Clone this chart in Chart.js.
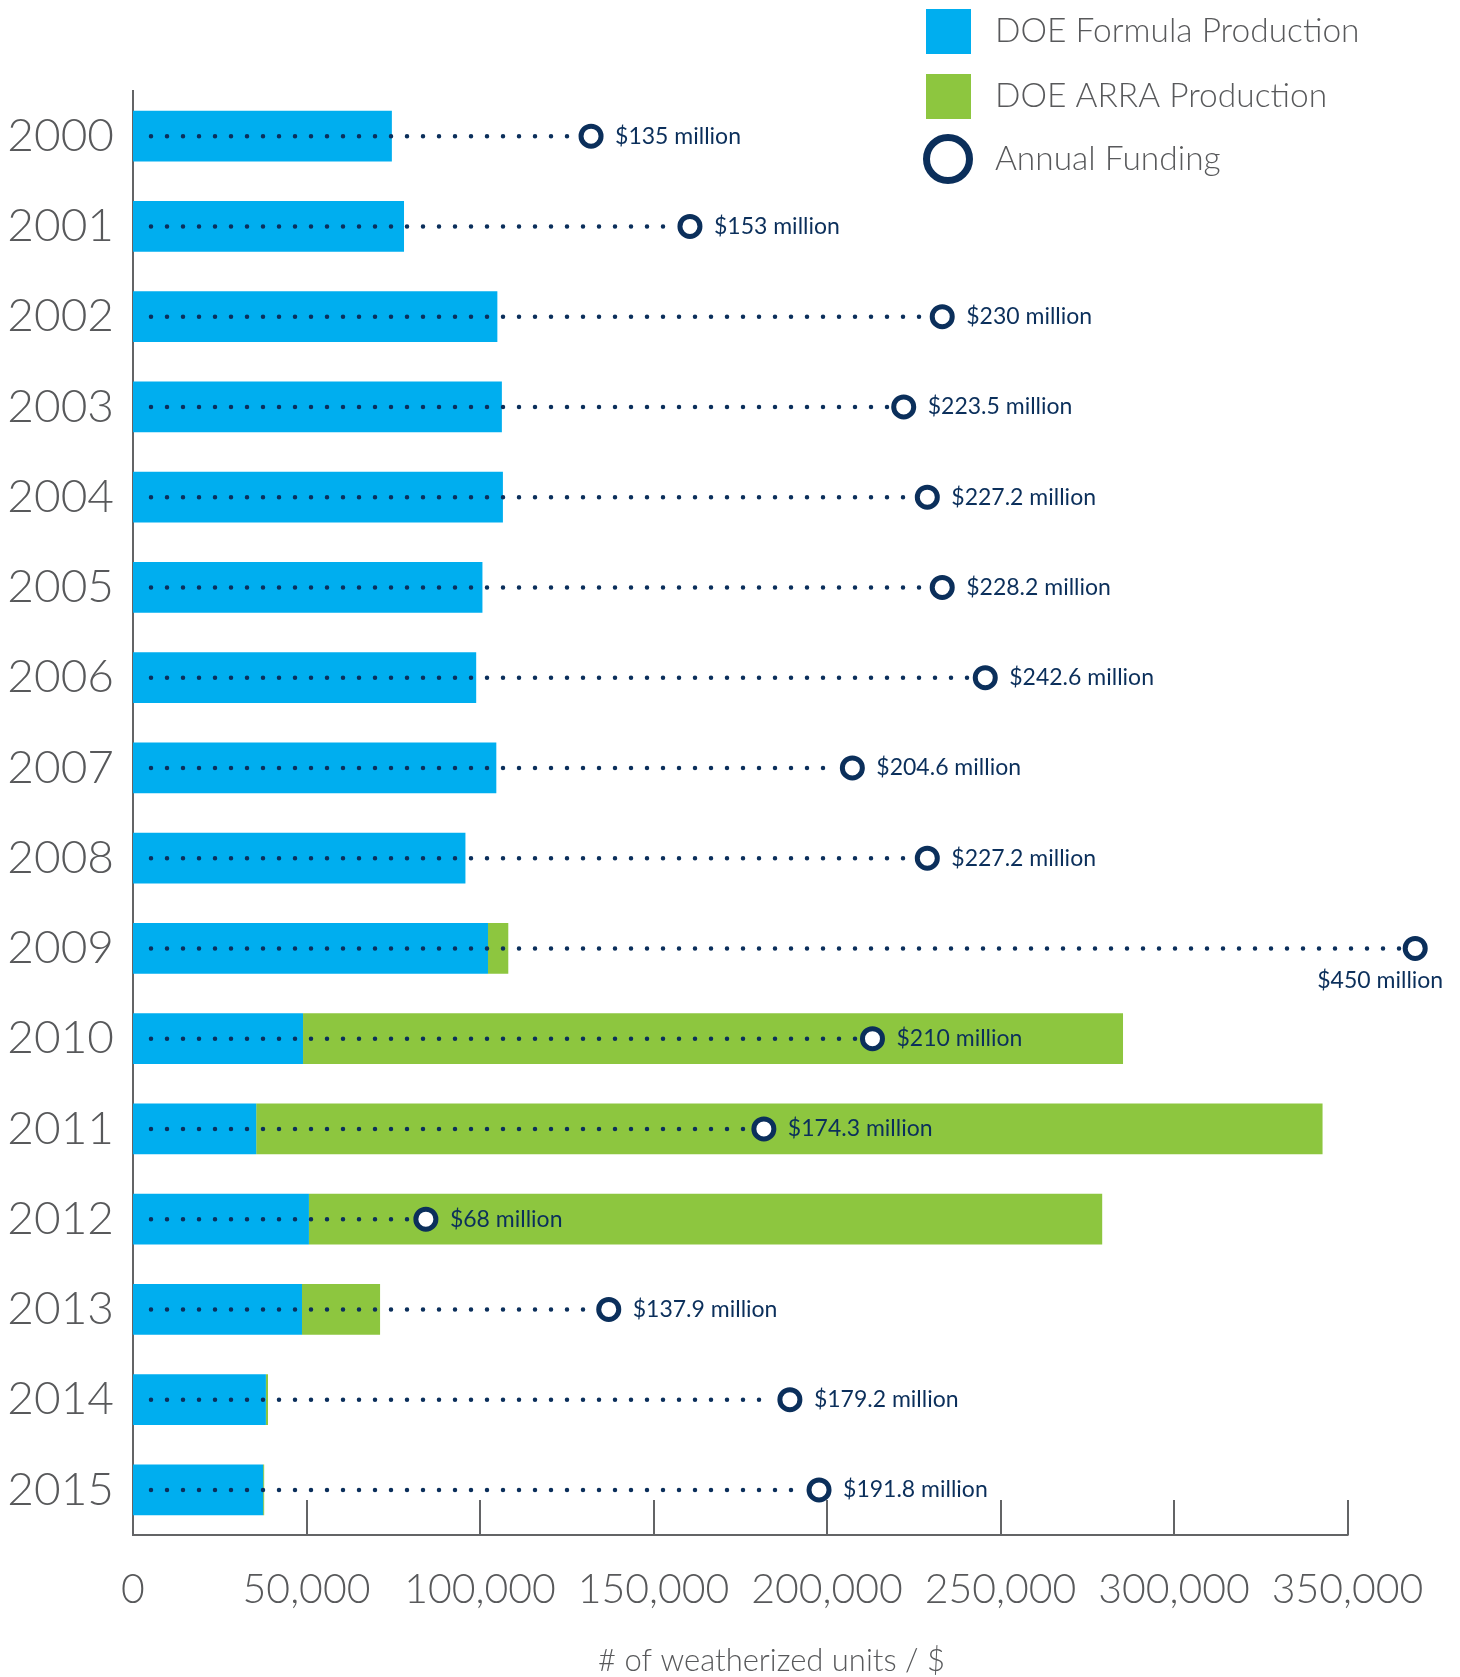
<!DOCTYPE html>
<html>
<head>
<meta charset="utf-8">
<script src="https://cdn.jsdelivr.net/npm/chart.js@4/dist/chart.umd.min.js"></script>
<style>
  html, body { margin: 0; padding: 0; background: #fff; }
  canvas { display: block; }
</style>
</head>
<body>
<canvas id="weatherization" width="1460" height="1677"></canvas>
<script>
// data
const years = ['2000', '2001', '2002', '2003', '2004', '2005', '2006', '2007',
               '2008', '2009', '2010', '2011', '2012', '2013', '2014', '2015'];
const formulaUnits = [74600, 78100, 105000, 106300, 106600, 100700, 98900, 104700,
                      95800, 102300, 49000, 35500, 50700, 48700, 38300, 37500];
const arraUnits = [0, 0, 0, 0, 0, 0, 0, 0,
                   0, 5850, 236300, 307300, 228600, 22500, 600, 300];
// where the funding circle sits on the units axis
const fundingPosition = [132000, 160500, 233200, 222100, 228900, 233200, 245600, 207300,
                         228900, 369500, 213100, 181800, 84400, 137100, 189300, 197700];
const fundingLabels = ['$135 million', '$153 million', '$230 million', '$223.5 million',
                       '$227.2 million', '$228.2 million', '$242.6 million', '$204.6 million',
                       '$227.2 million', '$450 million', '$210 million', '$174.3 million',
                       '$68 million', '$137.9 million', '$179.2 million', '$191.8 million'];
const xTicks = [0, 50000, 100000, 150000, 200000, 250000, 300000, 350000];
const seriesNames = ['DOE Formula Production', 'DOE ARRA Production', 'Annual Funding'];

const blue = '#00aeef';
const green = '#8dc63f';
const navy = '#0b2f5b';
const grey = '#58595b';
const axisGrey = '#636466';
const font = 'Lato, "Open Sans", sans-serif';

// dotted leader from the axis to each funding circle, under the circles
const dottedLines = {
  id: 'dottedLines',
  beforeDatasetDraw(chart, args) {
    if (args.index !== 2) return;
    const {ctx} = chart;
    const x0 = chart.scales.x.getPixelForValue(0) + 18;
    ctx.save();
    ctx.strokeStyle = navy;
    ctx.lineWidth = 4.5;
    ctx.lineCap = 'round';
    ctx.setLineDash([0, 16]);
    args.meta.data.forEach(pt => {
      ctx.beginPath();
      ctx.moveTo(x0, pt.y);
      ctx.lineTo(pt.x - 16, pt.y);
      ctx.stroke();
    });
    ctx.restore();
  }
};

const extras = {
  id: 'extras',
  afterDraw(chart) {
    const {ctx} = chart;
    const xs = chart.scales.x;
    const bottom = chart.chartArea.bottom;
    const lastTick = xTicks[xTicks.length - 1];

    // baseline stops at the last tick, tick marks point into the plot
    ctx.save();
    ctx.strokeStyle = axisGrey;
    ctx.lineWidth = 2;
    ctx.beginPath();
    ctx.moveTo(xs.getPixelForValue(0) - 1, bottom);
    ctx.lineTo(xs.getPixelForValue(lastTick) + 1, bottom);
    ctx.stroke();
    xTicks.forEach(v => {
      if (v === 0) return;
      const px = Math.round(xs.getPixelForValue(v));
      ctx.beginPath();
      ctx.moveTo(px, bottom);
      ctx.lineTo(px, bottom - 35);
      ctx.stroke();
    });

    // funding labels
    ctx.font = '23px ' + font;
    ctx.fillStyle = navy;
    ctx.textBaseline = 'middle';
    chart.getDatasetMeta(2).data.forEach((pt, i) => {
      const txt = fundingLabels[i];
      const w = ctx.measureText(txt).width;
      if (pt.x + 24 + w > chart.width - 10) {
        ctx.textAlign = 'right';
        ctx.fillText(txt, pt.x + 28, pt.y + 32);
      } else {
        ctx.textAlign = 'left';
        ctx.fillText(txt, pt.x + 24, pt.y);
      }
    });

    // legend
    const ds = chart.data.datasets;
    ctx.textAlign = 'left';
    ctx.font = '300 33.5px ' + font;
    ctx.fillStyle = ds[0].backgroundColor;
    ctx.fillRect(926, 9, 45, 45);
    ctx.fillStyle = ds[1].backgroundColor;
    ctx.fillRect(926, 74, 45, 45);
    ctx.beginPath();
    ctx.arc(948, 159, 21.5, 0, Math.PI * 2);
    ctx.lineWidth = 7;
    ctx.strokeStyle = ds[2].borderColor;
    ctx.stroke();
    ctx.fillStyle = grey;
    ctx.fillText(ds[0].label, 995, 31);
    ctx.fillText(ds[1].label, 995, 96);
    ctx.fillText(ds[2].label, 995, 159);
    ctx.restore();
  }
};

const ctx = document.getElementById('weatherization').getContext('2d');
const chart = new Chart(ctx, {
  type: 'bar',
  data: {
    labels: years,
    datasets: [
      {
        label: seriesNames[0],
        data: formulaUnits,
        backgroundColor: blue,
        categoryPercentage: 1,
        barPercentage: 0.562,
        order: 1
      },
      {
        label: seriesNames[1],
        data: arraUnits,
        backgroundColor: green,
        categoryPercentage: 1,
        barPercentage: 0.562,
        order: 1
      },
      {
        type: 'line',
        label: seriesNames[2],
        data: fundingPosition,
        indexAxis: 'y',
        stack: 'funding',
        showLine: false,
        clip: false,
        pointRadius: 10,
        pointHoverRadius: 10,
        pointBorderWidth: 5,
        pointBackgroundColor: '#fff',
        pointBorderColor: navy,
        borderColor: navy,
        order: 0
      }
    ]
  },
  options: {
    indexAxis: 'y',
    responsive: false,
    animation: false,
    layout: { padding: { top: 91, right: 50, left: 0, bottom: 0 } },
    plugins: {
      legend: { display: false },
      tooltip: { enabled: false }
    },
    scales: {
      x: {
        stacked: true,
        min: 0,
        max: 368000,
        afterBuildTicks: (scale) => { scale.ticks = xTicks.map(v => ({ value: v })); },
        afterFit: (scale) => { scale.height = 142; },
        ticks: {
          callback: (v) => v.toLocaleString('en-US'),
          font: { family: font, size: 41, weight: 300 },
          color: grey,
          padding: 22,
          maxRotation: 0,
          autoSkip: false
        },
        grid: { display: false },
        border: { display: false },
        title: {
          display: true,
          text: '# of weatherized units / $',
          font: { family: font, size: 31, weight: 300, lineHeight: 1 },
          color: grey,
          padding: { top: 0, bottom: 1 }
        }
      },
      y: {
        stacked: true,
        offset: true,
        afterFit: (scale) => { scale.width = 133; },
        ticks: {
          font: { family: font, size: 46, weight: 300 },
          color: grey,
          padding: 11
        },
        grid: { display: false },
        border: { display: true, color: axisGrey, width: 2 }
      }
    }
  },
  plugins: [dottedLines, extras]
});
</script>
</body>
</html>
